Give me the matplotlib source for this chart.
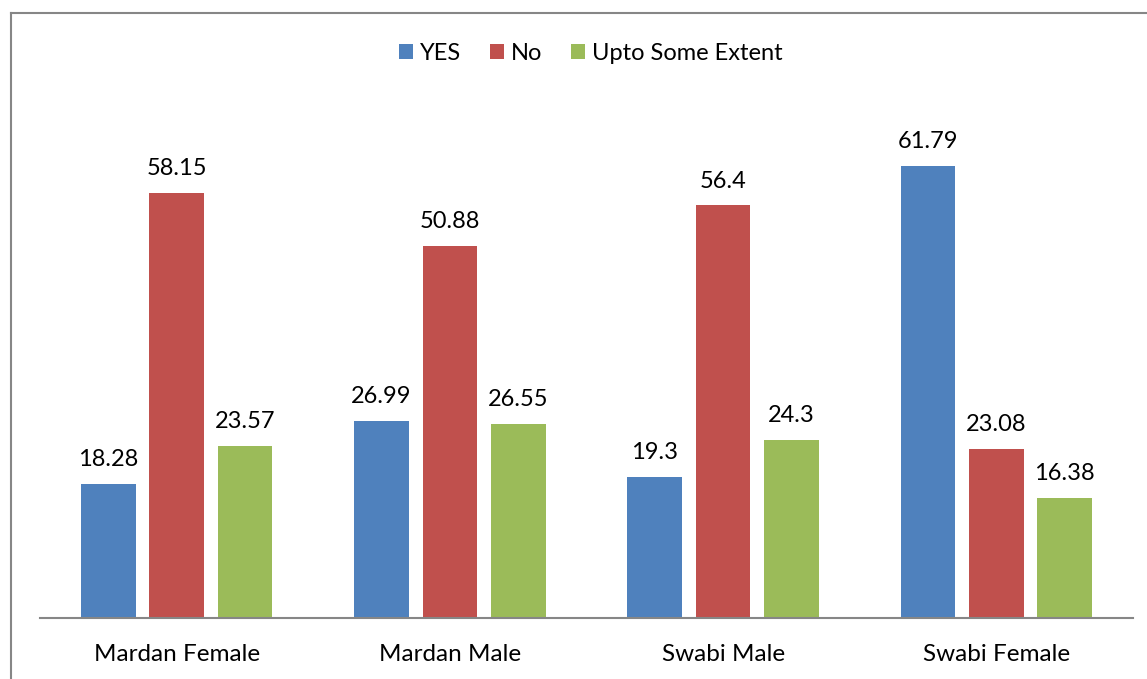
import numpy as np
import matplotlib
matplotlib.use('Agg')
import matplotlib.pyplot as plt
from matplotlib.lines import Line2D

plt.rcParams['font.family'] = ['Lato', 'DejaVu Sans']

# Chart data
categories = ['Mardan Female', 'Mardan Male', 'Swabi Male', 'Swabi Female']
series_names = ['YES', 'No', 'Upto Some Extent']
yes_vals = [18.28, 26.99, 19.3, 61.79]
no_vals = [58.15, 50.88, 56.4, 23.08]
some_vals = [23.57, 26.55, 24.3, 16.38]
value_labels = [['18.28', '26.99', '19.3', '61.79'],
                ['58.15', '50.88', '56.4', '23.08'],
                ['23.57', '26.55', '24.3', '16.38']]

colors = ['#4f81bd', '#c0504d', '#9bbb59']

W, H = 1147, 679
fig = plt.figure(figsize=(W / 100, H / 100), dpi=100)

ax = fig.add_axes([40 / W, (H - 618) / H, (1133 - 40) / W, (618 - 106) / H])

x = np.arange(len(categories))
width = 0.2
step = 0.25

for i, (vals, name) in enumerate(zip([yes_vals, no_vals, some_vals], series_names)):
    pos = x + (i - 1) * step
    bars = ax.bar(pos, vals, width, color=colors[i], label=name, zorder=2)
    for b, lab in zip(bars, value_labels[i]):
        ax.text(b.get_x() + b.get_width() / 2, b.get_height() + 2.45, lab,
                ha='center', va='baseline', fontsize=17, color='black')

ax.set_xlim(-0.5, len(categories) - 0.5)
ax.set_ylim(0, 70)

for s in ['top', 'right', 'left']:
    ax.spines[s].set_visible(False)
ax.spines['bottom'].set_color('#868686')
ax.spines['bottom'].set_linewidth(1.5)

ax.set_yticks([])
ax.set_xticks(x)
ax.set_xticklabels(categories, fontsize=17.5)
ax.tick_params(axis='x', length=0, pad=18.5)

leg = fig.legend(loc='center', bbox_to_anchor=(591 / W, 1 - 53 / H), ncol=3,
                 frameon=False, fontsize=17, handlelength=0.6, handleheight=0.6,
                 handletextpad=0.3, columnspacing=1.2)

# Outer chart border (left and top edges visible)
fig.add_artist(Line2D([11 / W, 11 / W], [0, 1 - 13 / H], transform=fig.transFigure,
                      color='#868686', linewidth=1.5))
fig.add_artist(Line2D([11 / W, 1], [1 - 13 / H, 1 - 13 / H], transform=fig.transFigure,
                      color='#868686', linewidth=1.5))

fig.savefig('out.png', dpi=100, facecolor='white')
